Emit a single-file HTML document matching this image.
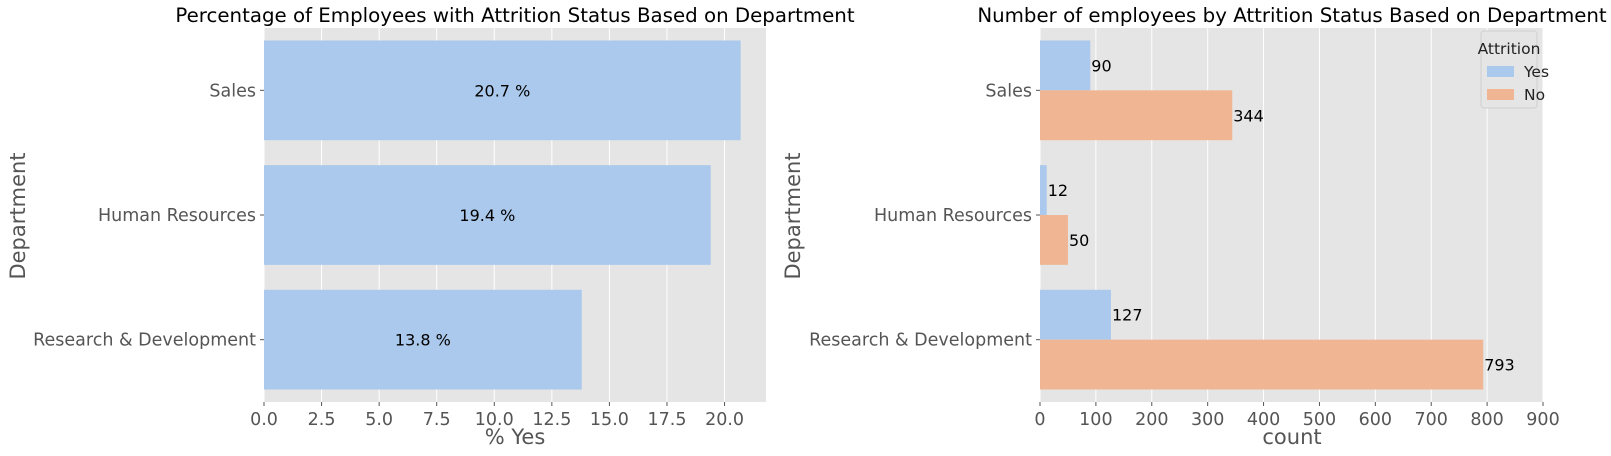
<!DOCTYPE html>
<html><head><meta charset="utf-8"><style>
body{margin:0;background:#fff;font-family:"Liberation Sans","DejaVu Sans",sans-serif}
svg text{font-family:"DejaVu Sans","Liberation Sans",sans-serif}
</style></head><body>
<svg id="c" width="1611" height="451" xmlns="http://www.w3.org/2000/svg"></svg>
<script>
const departments=["Sales","Human Resources","Research & Development"];
const pctYes=[20.7,19.4,13.8];
const countYes=[90,12,127];
const countNo=[344,50,793];
const leftTicks=[0,2.5,5,7.5,10,12.5,15,17.5,20];
const rightTicks=[0,100,200,300,400,500,600,700,800,900];
const NS="http://www.w3.org/2000/svg";
const svgEl=document.getElementById('c');
function mk(t,a,p,txt){const e=document.createElementNS(NS,t);for(const k in a)e.setAttribute(k,a[k]);if(txt!=null)e.textContent=txt;(p||svgEl).appendChild(e);return e;}
const yTop=28,yBot=402,band=(yBot-yTop)/3;
function yc(i){return yTop+band*(i+0.5);}
const L={x0:264,x1:766,max:21.8};
function lx(v){return L.x0+v/L.max*(L.x1-L.x0);}
const R={x0:1040,x1:1543,max:900};
function rx(v){return R.x0+v/R.max*(R.x1-R.x0);}
function axes(A,fx,ticks,fmt,name){
  const g=mk('g',{});
  
  
  mk('rect',{x:A.x0,y:yTop,width:A.x1-A.x0,height:yBot-yTop,fill:'#e5e5e5'},g);
  ticks.forEach(t=>{const x=fx(t);
    mk('line',{x1:x,x2:x,y1:yTop,y2:yBot,stroke:'#fff','stroke-width':1},g);
    mk('line',{x1:x,x2:x,y1:yBot,y2:yBot+4,stroke:'#555'},g);
    const tl=mk('text',{x:x,y:yBot+23,'text-anchor':'middle','font-size':17.5,fill:'#555'},g,fmt(t));
    
    
  });
  departments.forEach((d,i)=>{
    mk('line',{x1:A.x0-4,x2:A.x0,y1:yc(i),y2:yc(i),stroke:'#555'},g);
    const tl=mk('text',{x:A.x0-8,y:yc(i)+6,'text-anchor':'end','font-size':17.5,fill:'#555'},g,d);
    
    
  });
  return g;
}
axes(L,lx,leftTicks,t=>t.toFixed(1),'left');
axes(R,rx,rightTicks,t=>String(t),'right');
pctYes.forEach((v,i)=>{
  const h=band*0.8;
  const b=mk('rect',{x:L.x0,y:yc(i)-h/2,width:lx(v)-L.x0,height:h,fill:'#abc9ec'});
  
  
  const t=mk('text',{x:(L.x0+lx(v))/2,y:yc(i)+6,'text-anchor':'middle','font-size':16,fill:'#000'},null,v.toFixed(1)+' %');
  
  
});
[[countYes,'#abc9ec',-1],[countNo,'#f0b693',0]].forEach(([arr,col,off],s)=>{
  arr.forEach((v,i)=>{
    const h=band*0.4;const y=yc(i)+off*h;
    const b=mk('rect',{x:R.x0,y:y,width:rx(v)-R.x0,height:h,fill:col});
    
    
    const t=mk('text',{x:rx(v)+1,y:y+h/2+6,'font-size':16,fill:'#000'},null,String(v));
    
    
  });
});
function txt(x,y,s,size,fill,name,rot){
  const a={x:x,y:y,'text-anchor':'middle','font-size':size,fill:fill};
  if(rot)a.transform='rotate(-90 '+x+' '+y+')';
  const t=mk('text',a,null,s);
  
  
}
txt(515,22,'Percentage of Employees with Attrition Status Based on Department',19.8,'#000','left-title');
txt(1292,22,'Number of employees by Attrition Status Based on Department',19.8,'#000','right-title');
txt(515,444,'% Yes',21,'#555','left-x-axis-title');
txt(1292,444,'count',21,'#555','right-x-axis-title');
txt(25,216,'Department',21,'#555','left-y-axis-title',true);
txt(800,216,'Department',21,'#555','right-y-axis-title',true);
const lg=mk('g',{});


mk('rect',{x:1481,y:31,width:56,height:77,rx:3,fill:'#e5e5e5',stroke:'#d0d0d0'},lg);
mk('text',{x:1509,y:54,'text-anchor':'middle','font-size':15.5,fill:'#222'},lg,'Attrition');
mk('rect',{x:1487,y:66,width:27,height:11,fill:'#abc9ec'},lg);
mk('text',{x:1524,y:77,'font-size':15.5,fill:'#222'},lg,'Yes');
mk('rect',{x:1487,y:89,width:27,height:11,fill:'#f0b693'},lg);
mk('text',{x:1524,y:100,'font-size':15.5,fill:'#222'},lg,'No');
</script>
</body></html>
